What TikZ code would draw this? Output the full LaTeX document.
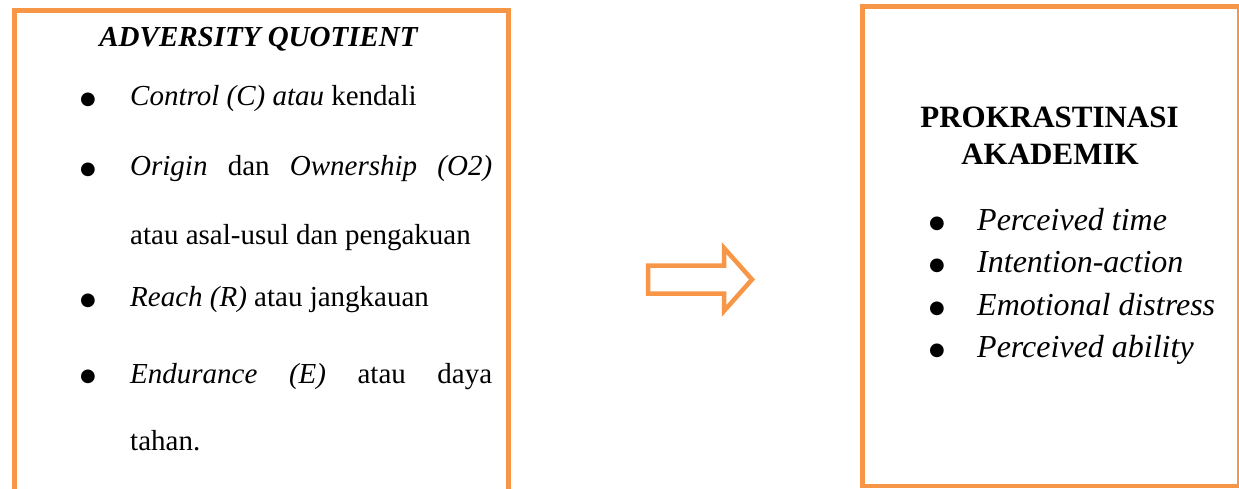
\documentclass[tikz,border=0pt]{standalone}
\usepackage{fontspec}
\setmainfont{Liberation Serif}
\newfontfamily\dotfont{DejaVu Sans}
\definecolor{acorange}{RGB}{247,150,70}
\tikzset{
  box/.style={draw=acorange, line width=4.5pt, rectangle, inner sep=0pt, fill=white},
  txt/.style={inner sep=0pt, anchor=base west, font=\fontsize{29}{34}\selectfont},
  rtxt/.style={inner sep=0pt, anchor=base west, font=\fontsize{32}{38}\selectfont\itshape},
  bul/.style={inner sep=0pt, anchor=base, font=\dotfont\fontsize{18}{18}\selectfont},
  arrowline/.style={draw=acorange, line width=4.5pt, line join=miter, fill=white}
}
\newcommand{\bulletglyph}{●}
\begin{document}
\begin{tikzpicture}[x=1pt,y=-1pt]
\useasboundingbox (0,0) rectangle (1239,489);
\begin{scope}
\clip (0,0) rectangle (1239,489);
\node[box, minimum width=494pt, minimum height=520pt, anchor=north west] (aq) at (12,8.5) {};
\node[box, minimum width=377pt, minimum height=479pt, anchor=north west] (pk) at (860,4.5) {};
\end{scope}

% left box content
\node[inner sep=0pt, anchor=base, font=\fontsize{29}{34}\selectfont\bfseries\itshape] (aqt) at (258.5,47) {ADVERSITY QUOTIENT};
\node[bul] (b1) at (88,105) {\bulletglyph};
\node[txt] (t1) at (130,106) {\textit{Control (C) atau} kendali};
\node[bul] (b2) at (88,175) {\bulletglyph};
\node[txt] (t2) at (130,176) {\makebox[362pt][s]{\textit{Origin} dan \textit{Ownership (O2)}}};
\node[txt] (t3) at (130,244) {atau asal-usul dan pengakuan};
\node[bul] (b4) at (88,305) {\bulletglyph};
\node[txt] (t4) at (130,306) {\textit{Reach (R)} atau jangkauan};
\node[bul] (b5) at (88,381) {\bulletglyph};
\node[txt] (t5) at (130,383) {\makebox[362pt][s]{\textit{Endurance (E)} atau daya}};
\node[txt] (t6) at (130,450) {tahan.};

% arrow
\draw[arrowline] (648,265.5) -- (724,265.5) -- (724,248) -- (752,279.5) -- (724,311) -- (724,293.5) -- (648,293.5) -- cycle;

% right box content
\node[inner sep=0pt, anchor=base, font=\fontsize{31}{37}\selectfont\bfseries] (pkt1) at (1049.5,128) {PROKRASTINASI};
\node[inner sep=0pt, anchor=base, font=\fontsize{31}{37}\selectfont\bfseries] (pkt2) at (1050,165) {AKADEMIK};
\node[bul] (r1b) at (937,228.5) {\bulletglyph};
\node[rtxt] (r1) at (977,230) {Perceived time};
\node[bul] (r2b) at (937,270.5) {\bulletglyph};
\node[rtxt] (r2) at (977,272) {Intention-action};
\node[bul] (r3b) at (937,313.5) {\bulletglyph};
\node[rtxt] (r3) at (977,315) {Emotional distress};
\node[bul] (r4b) at (937,355.5) {\bulletglyph};
\node[rtxt] (r4) at (977,357) {Perceived ability};
\end{tikzpicture}
\end{document}
